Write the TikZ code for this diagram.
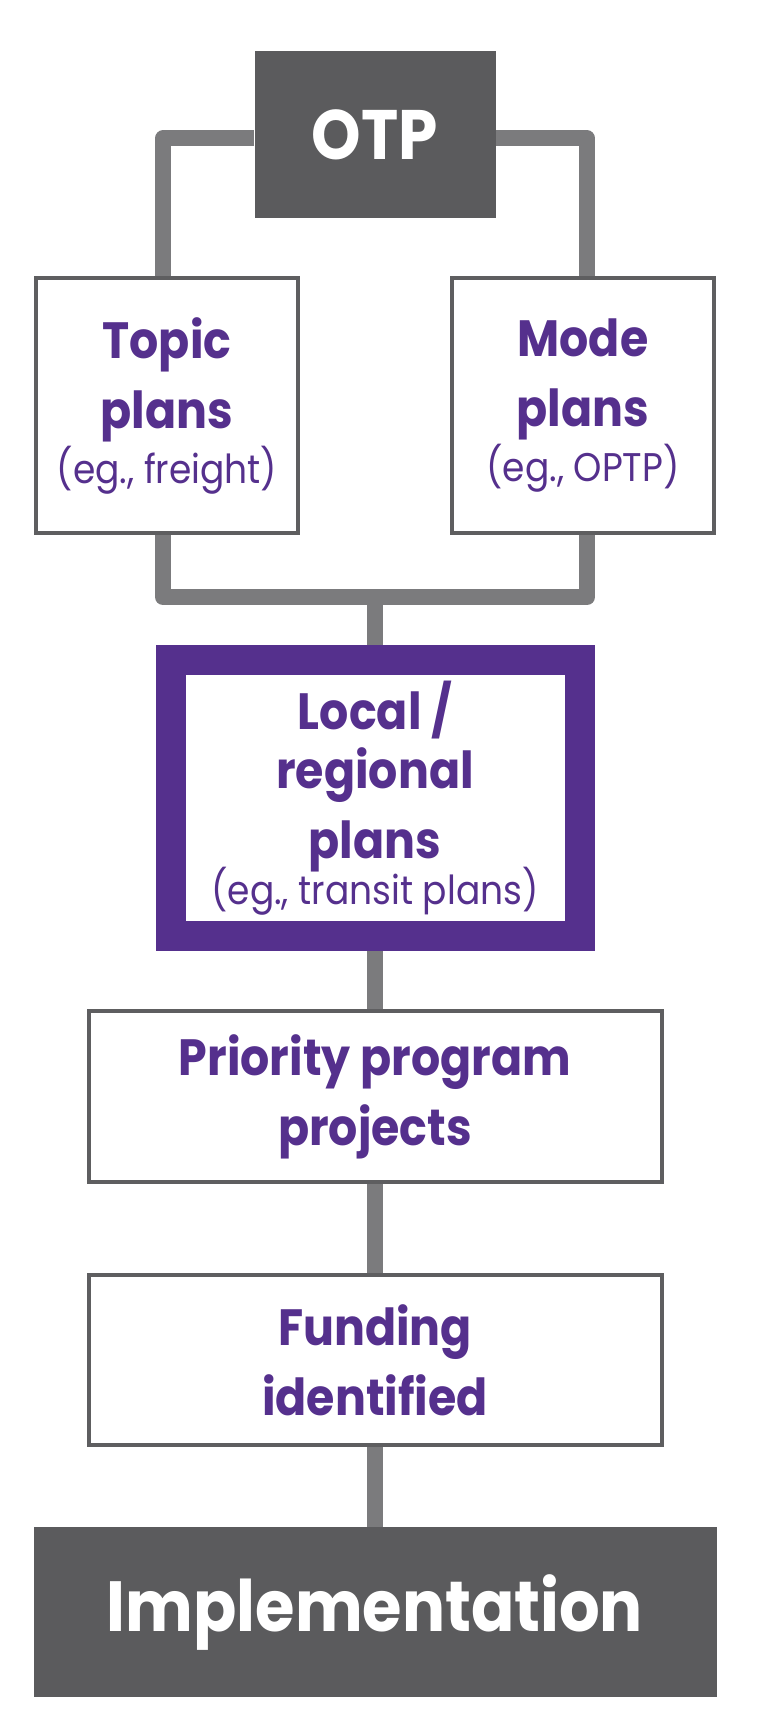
\documentclass[tikz,border=0pt]{standalone}
\usepackage{fontspec}
\setmainfont{Poppins}[FakeStretch=0.9]
\usepackage{xcolor}
\usetikzlibrary{positioning,backgrounds}
\definecolor{otpgray}{HTML}{5B5B5D}
\definecolor{linkgray}{HTML}{7B7B7D}
\definecolor{edgegray}{HTML}{5E5E60}
\definecolor{otppurple}{HTML}{55308D}
\newcommand{\eg}[1]{{\fontsize{20}{27}\mdseries\selectfont #1}}

\begin{document}
\begin{tikzpicture}[x=0.5pt,y=-0.5pt,
    planbox/.style={draw=edgegray, line width=2pt, fill=white, inner sep=0pt, align=center,
                    text=otppurple, font=\fontsize{25.5}{35}\selectfont\bfseries},
    darkbox/.style={fill=otpgray, inner sep=0pt, text=white},
    link/.style={draw=linkgray, line width=8pt, line join=round}]
    \useasboundingbox (0,0) rectangle (763,1733);
    \node[darkbox, minimum width=120.5pt, minimum height=83.5pt, font=\fontsize{35}{40}\selectfont\bfseries] (otp) at (375,134.5) {OTP};
    \node[planbox, minimum width=131pt, minimum height=127.5pt] (topic) at (167,405.5) {Topic\\plans\\[-7.5pt]\eg{(eg., freight)}};
    \node[planbox, minimum width=131pt, minimum height=127.5pt] (mode) at (583,405.5) {Mode\\plans\\[-7.5pt]\eg{(eg., OPTP)}};
    \node[planbox, draw=otppurple, line width=15pt, minimum width=204.5pt, minimum height=138pt] (local) at (375,798) {Local /\\[-5.5pt]regional\\plans\\[-12pt]\eg{(eg., transit plans)}};
    \node[planbox, minimum width=286.5pt, minimum height=85.5pt] (priority) at (375,1096.5) {Priority program\\projects};
    \node[planbox, minimum width=286.5pt, minimum height=85pt] (funding) at (375,1360) {Funding\\identified};
    \node[darkbox, minimum width=341.5pt, minimum height=85pt, font=\fontsize{35.5}{40}\selectfont\bfseries] (impl) at (375,1612) {Implementation};
    \coordinate (join) at (375,597);
    % connectors behind the boxes
    \begin{scope}[on background layer]
        \draw[link] ([yshift=-2pt]otp.west) -| ([xshift=-2pt]topic.north);
        \draw[link] ([yshift=-2pt]otp.east) -| ([xshift=2pt]mode.north);
        \draw[link] ([xshift=-2pt]topic.south) |- (join) -| ([xshift=2pt]mode.south);
        \foreach \a/\b in {join/local,local/priority,priority/funding,funding/impl}
            \draw[link] (\a) -- (\b);
    \end{scope}
\end{tikzpicture}
\end{document}
